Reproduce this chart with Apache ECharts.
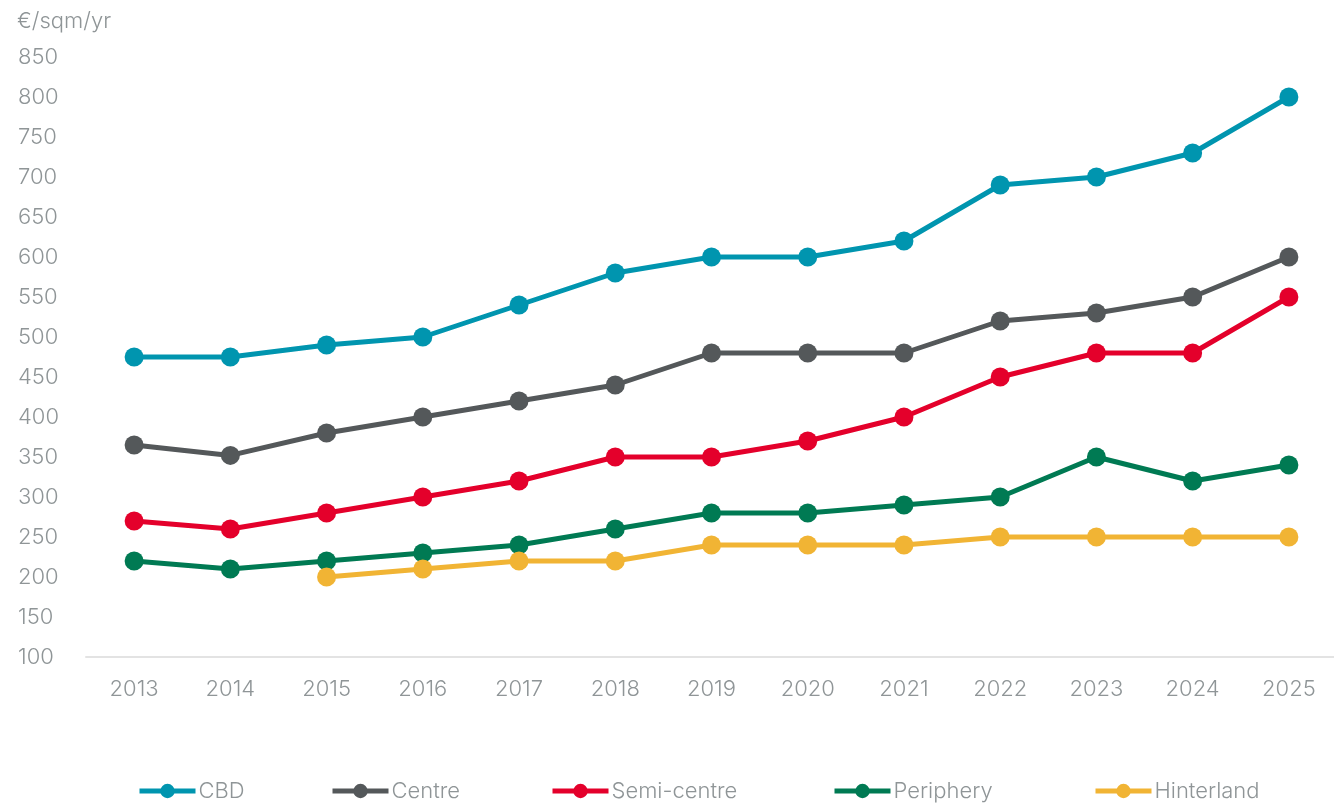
<!DOCTYPE html>
<html>
<head>
<meta charset="utf-8">
<script src="https://cdn.jsdelivr.net/npm/echarts@6/dist/echarts.min.js"></script>
<style>
  html, body { margin: 0; padding: 0; background: #fff; }
  #chart { width: 1334px; height: 803px; }
</style>
</head>
<body>
<div id="chart"></div>
<script>
// Prime office rents by submarket, €/sqm/yr
const years = ['2013', '2014', '2015', '2016', '2017', '2018', '2019', '2020', '2021', '2022', '2023', '2024', '2025'];
const cbd = [475, 475, 490, 500, 540, 580, 600, 600, 620, 690, 700, 730, 800];
const centre = [365, 352, 380, 400, 420, 440, 480, 480, 480, 520, 530, 550, 600];
const semiCentre = [270, 260, 280, 300, 320, 350, 350, 370, 400, 450, 480, 480, 550];
const periphery = [220, 210, 220, 230, 240, 260, 280, 280, 290, 300, 350, 320, 340];
const hinterland = [null, null, 200, 210, 220, 220, 240, 240, 240, 250, 250, 250, 250];

const textColor = '#8f9597';
const fontFamily = 'Inter, Lato, sans-serif';
const fontSize = 22;
const fontWeight = 300;

const seriesDefs = [
  { name: 'CBD', data: cbd, color: '#0095af', legendLeft: 137 },
  { name: 'Centre', data: centre, color: '#54585a', legendLeft: 330 },
  { name: 'Semi-centre', data: semiCentre, color: '#e4002b', legendLeft: 550 },
  { name: 'Periphery', data: periphery, color: '#007a53', legendLeft: 832 },
  { name: 'Hinterland', data: hinterland, color: '#f1b434', legendLeft: 1093 }
];

const labelStyle = { color: textColor, fontSize: fontSize, fontWeight: fontWeight, fontFamily: fontFamily };

const chart = echarts.init(document.getElementById('chart'));
chart.setOption({
  animation: false,
  backgroundColor: '#fff',
  textStyle: { fontFamily: fontFamily },
  title: {
    text: '€/sqm/yr',
    left: 12,
    top: 5,
    textStyle: labelStyle
  },
  grid: { left: 86, right: -3, top: 57, bottom: 146, outerBoundsMode: 'none' },
  xAxis: {
    type: 'category',
    data: years,
    boundaryGap: true,
    axisLine: { lineStyle: { color: '#e3e3e3', width: 2 } },
    axisTick: { show: false },
    axisLabel: Object.assign({ margin: 21 }, labelStyle)
  },
  yAxis: {
    type: 'value',
    min: 100,
    max: 850,
    interval: 50,
    axisLine: { show: false },
    axisTick: { show: false },
    splitLine: { show: false },
    axisLabel: Object.assign({ align: 'left', margin: 68 }, labelStyle)
  },
  // one legend block per series so each entry sits at its own spot
  legend: seriesDefs.map(s => ({
    top: 780,
    left: s.legendLeft,
    padding: 0,
    itemWidth: 56,
    itemHeight: 18,
    itemGap: 0,
    lineStyle: { width: 5 },
    textStyle: Object.assign({ padding: [0, 0, 0, -2] }, labelStyle),
    data: [s.name]
  })),
  series: seriesDefs.map(s => ({
    name: s.name,
    type: 'line',
    data: s.data,
    symbol: 'circle',
    symbolSize: 19,
    connectNulls: false,
    itemStyle: { color: s.color },
    lineStyle: { color: s.color, width: 5 }
  }))
});
</script>
</body>
</html>
